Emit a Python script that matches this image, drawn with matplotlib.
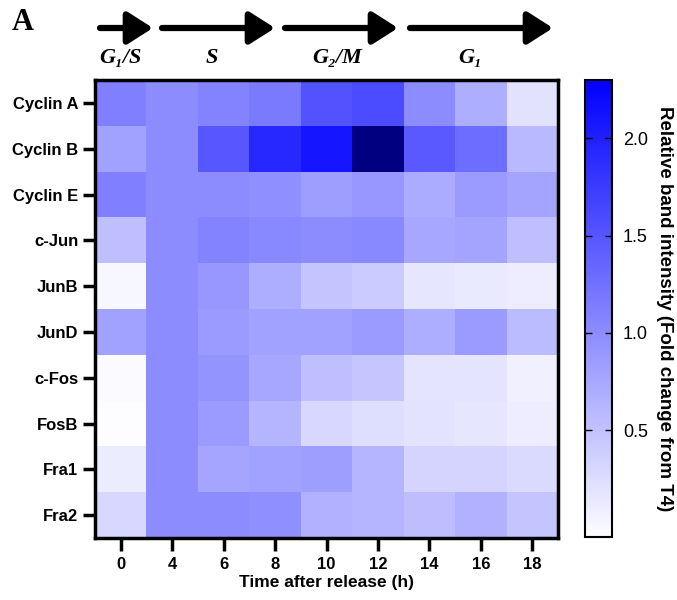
import matplotlib
matplotlib.use("Agg")
import matplotlib.pyplot as plt
import numpy as np
from matplotlib.colors import LinearSegmentedColormap

# data (fold change from T4)
proteins = ["Cyclin A", "Cyclin B", "Cyclin E", "c-Jun", "JunB", "JunD",
            "c-Fos", "FosB", "Fra1", "Fra2"]
times = ["0", "4", "6", "8", "10", "12", "14", "16", "18"]

cyclin_a = [1.12, 1.00, 1.08, 1.17, 1.53, 1.60, 1.00, 0.69, 0.20]
cyclin_b = [0.81, 1.00, 1.49, 1.94, 2.10, 2.60, 1.47, 1.29, 0.59]
cyclin_e = [1.12, 1.00, 1.00, 0.97, 0.84, 0.90, 0.72, 0.87, 0.78]
c_jun    = [0.52, 1.00, 1.08, 1.04, 1.00, 1.04, 0.75, 0.78, 0.52]
jun_b    = [0.01, 1.00, 0.90, 0.69, 0.48, 0.41, 0.17, 0.13, 0.10]
jun_d    = [0.81, 1.00, 0.86, 0.81, 0.81, 0.86, 0.69, 0.86, 0.57]
c_fos    = [-0.03, 1.00, 0.93, 0.75, 0.52, 0.46, 0.18, 0.18, 0.07]
fos_b    = [-0.05, 1.00, 0.86, 0.63, 0.30, 0.24, 0.19, 0.17, 0.10]
fra1     = [0.11, 1.00, 0.77, 0.81, 0.84, 0.63, 0.33, 0.33, 0.28]
fra2     = [0.30, 1.00, 1.00, 0.97, 0.66, 0.63, 0.54, 0.66, 0.48]

phases = ["G\u2081/S", "S", "G\u2082/M", "G\u2081"]

values = np.array([cyclin_a, cyclin_b, cyclin_e, c_jun, jun_b, jun_d,
                   c_fos, fos_b, fra1, fra2])

plt.rcParams["font.family"] = ["Liberation Sans", "DejaVu Sans"]

cmap = LinearSegmentedColormap.from_list("wb", ["#fdfdff", "#0000ff"])
cmap.set_over("#000080")
cmap.set_under("#ffffff")

fig = plt.figure(figsize=(6.77, 6.0), dpi=100)
W, H = 677, 600
ax = fig.add_axes([95 / W, 1 - 538 / H, (558 - 95) / W, (538 - 80) / H])
cax = fig.add_axes([585 / W, 1 - 537 / H, 27 / W, (537 - 80) / H])

mesh = ax.pcolormesh(values, cmap=cmap, vmin=-0.05, vmax=2.3)
ax.set_xlim(0, len(times))
ax.set_ylim(len(proteins), 0)
ax.set_xticks(np.arange(len(times)) + 0.5)
ax.set_xticklabels(times, fontweight="bold", fontsize=12)
ax.set_yticks(np.arange(len(proteins)) + 0.5)
ax.set_yticklabels(proteins, fontweight="bold", fontsize=12)
ax.tick_params(length=9, width=2.5, pad=3)
ax.tick_params(axis="x", pad=5)
for sp in ax.spines.values():
    sp.set_linewidth(2.5)
ax.set_xlabel("Time after release (h)", fontweight="bold", fontsize=12.5, labelpad=2)

cb = fig.colorbar(mesh, cax=cax, extend="neither")
cb.set_ticks([0.5, 1.0, 1.5, 2.0])
cb.ax.tick_params(direction="in", left=True, right=True, length=5, width=1,
                  labelsize=13, pad=8)
cb.outline.set_linewidth(1.5)
cb.set_label("Relative band intensity (Fold change from T4)", rotation=270,
             fontweight="bold", fontsize=13.5, labelpad=18)

# panel letter and cell-cycle phase arrows
fig.text(12 / W, 1 - 22 / H, "A", fontsize=22, fontweight="bold",
         family=["Liberation Serif", "DejaVu Serif"], va="center", ha="left")
arrows = [(100, 153), (162, 275), (285, 398), (410, 553)]
label_x = [120, 212, 337, 470]
for (x0, x1), lx, lab in zip(arrows, label_x, phases):
    fig.add_artist(matplotlib.patches.FancyArrowPatch(
        (x0 / W, 1 - 28 / H), (x1 / W, 1 - 28 / H), transform=fig.transFigure,
        arrowstyle="-|>,head_length=1.1,head_width=0.7", lw=4.5, color="black",
        mutation_scale=14, shrinkA=0, shrinkB=0))
    fig.text(lx / W, 1 - 58 / H, lab, fontsize=16, fontweight="bold",
             fontstyle="italic", family=["Liberation Serif", "DejaVu Serif"],
             ha="center", va="center")

fig.savefig("out.png", dpi=100)
